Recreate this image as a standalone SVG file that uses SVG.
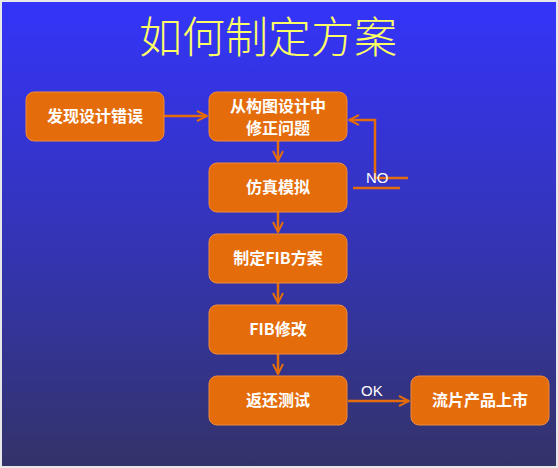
<svg xmlns="http://www.w3.org/2000/svg" width="558" height="468" viewBox="0 0 558 468">
<defs>
<linearGradient id="bg" x1="0" y1="0" x2="0" y2="1">
<stop offset="0" stop-color="#3434FA"/>
<stop offset="0.5" stop-color="#3434B8"/>
<stop offset="1" stop-color="#33336A"/>
</linearGradient>
<marker id="arr" viewBox="0 0 10 10" refX="9" refY="5" markerWidth="5" markerHeight="5" orient="auto" markerUnits="strokeWidth">
<path d="M1,1 L9,5 L1,9" fill="none" stroke="#E46C0A" stroke-width="1.6"/>
</marker>
<style>
.box{fill:#E46C0A;stroke:#F08A3A;stroke-width:1}
.t{font-family:"Noto Sans CJK SC","Liberation Sans",sans-serif;font-size:16px;font-weight:bold;fill:#FFFFFF;text-anchor:middle}
.c{fill:none;stroke:#E46C0A;stroke-width:2.5}
.lbl{font-family:"Liberation Sans","Noto Sans CJK SC",sans-serif;font-size:15px;fill:#FFFFFF}
</style>
</defs>
<rect x="0" y="0" width="558" height="468" fill="#E8E8E8"/>
<rect x="2" y="2" width="554" height="464" fill="url(#bg)"/>
<text x="268" y="53" font-family="Noto Sans CJK SC,sans-serif" font-size="43" font-weight="300" fill="#FFFF66" text-anchor="middle">如何制定方案</text>
<g id="connectors">
<path class="c" d="M164,116 H207" marker-end="url(#arr)"/>
<path class="c" d="M278,141 V161" marker-end="url(#arr)"/>
<path class="c" d="M278,211 V232" marker-end="url(#arr)"/>
<path class="c" d="M278,282 V303" marker-end="url(#arr)"/>
<path class="c" d="M278,353 V374" marker-end="url(#arr)"/>
<path class="c" d="M348,401 H409" marker-end="url(#arr)"/>
<path class="c" d="M408,178 H375 V120 H349" marker-end="url(#arr)"/>
<path class="c" d="M353,188 H400"/>
<text class="lbl" x="366" y="183">NO</text>
<text class="lbl" x="361" y="396">OK</text>
</g>
<g id="n1"><rect class="box" x="26" y="92" width="138" height="49" rx="8"/><text class="t" x="95" y="122">发现设计错误</text></g>
<g id="n2"><rect class="box" x="209" y="92" width="138" height="49" rx="8"/><text class="t" x="278" y="112">从构图设计中</text><text class="t" x="278" y="134">修正问题</text></g>
<g id="n3"><rect class="box" x="209" y="163" width="138" height="49" rx="8"/><text class="t" x="278" y="193">仿真模拟</text></g>
<g id="n4"><rect class="box" x="209" y="234" width="138" height="49" rx="8"/><text class="t" x="278" y="264">制定FIB方案</text></g>
<g id="n5"><rect class="box" x="209" y="305" width="138" height="49" rx="8"/><text class="t" x="278" y="335">FIB修改</text></g>
<g id="n6"><rect class="box" x="209" y="376" width="138" height="49" rx="8"/><text class="t" x="278" y="406">返还测试</text></g>
<g id="n7"><rect class="box" x="411" y="376" width="138" height="49" rx="8"/><text class="t" x="480" y="406">流片产品上市</text></g>
</svg>
